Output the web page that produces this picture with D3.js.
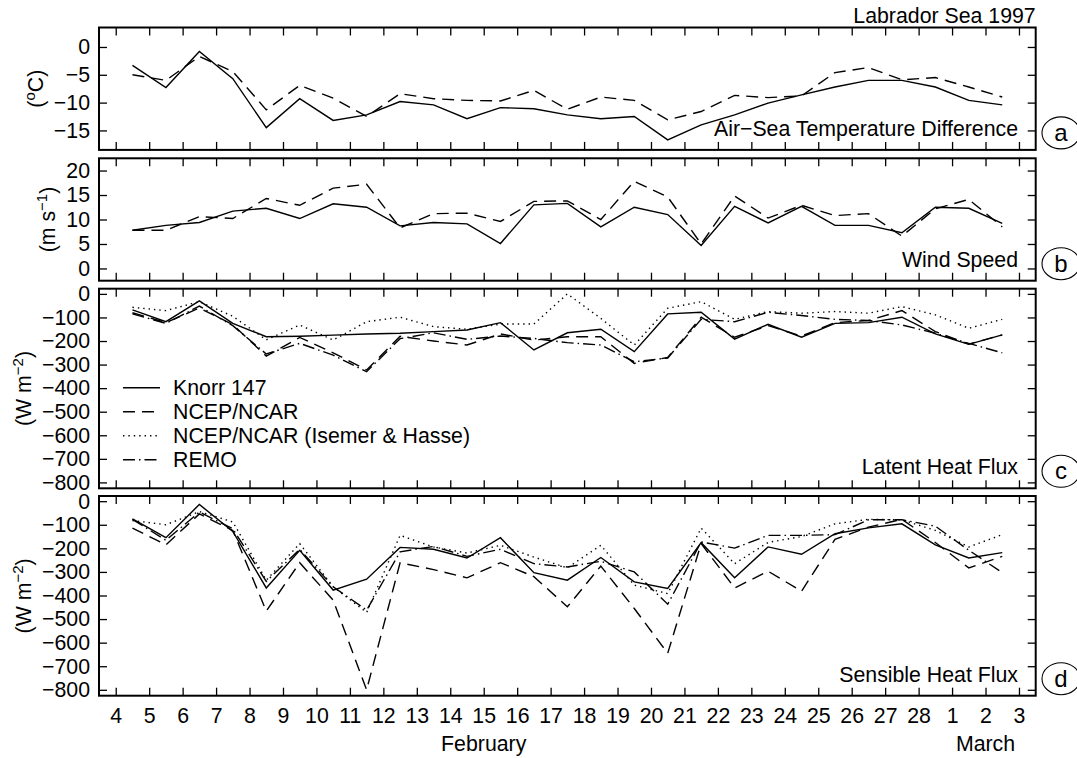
<!DOCTYPE html>
<html><head><meta charset="utf-8">
<script src="https://cdn.jsdelivr.net/npm/d3@7"></script>
<style>
html,body{margin:0;padding:0;background:#fff;}
svg{display:block;font-family:"Liberation Sans",Arial,Helvetica,sans-serif;}
</style></head><body>
<svg id="chart" width="1077" height="758"></svg>
<script>
// ---------------- DATA ----------------
const obsDays = [4.5,5.5,6.5,7.5,8.5,9.5,10.5,11.5,12.5,13.5,14.5,15.5,16.5,17.5,18.5,19.5,20.5,21.5,22.5,23.5,24.5,25.5,26.5,27.5,28.5,29.5,30.5];
const xTickDays = [4,5,6,7,8,9,10,11,12,13,14,15,16,17,18,19,20,21,22,23,24,25,26,27,28,29,30,31];
const xTickLabels = ["4","5","6","7","8","9","10","11","12","13","14","15","16","17","18","19","20","21","22","23","24","25","26","27","28","1","2","3"];
const monthLabels = ["February","March"];
const monthLabelDays = [15, 30];

// (a) Air-sea temperature difference (degC)
const knorrTemp = [-3.3,-7.3,-0.8,-5.7,-14.5,-9.3,-13.2,-12.2,-9.8,-10.4,-12.9,-10.9,-11.1,-12.2,-12.9,-12.5,-16.7,-14.0,-12.2,-10.1,-8.6,-7.2,-6.0,-6.0,-7.2,-9.6,-10.4];
const ncepTemp  = [-5.0,-6.0,-1.7,-4.4,-11.3,-6.9,-9.2,-12.5,-8.4,-9.3,-9.6,-9.7,-7.8,-11.2,-9.0,-9.6,-13.1,-11.6,-8.7,-9.1,-8.8,-4.6,-3.7,-5.9,-5.5,-7.2,-9.0];
const yTicksTemp = [0,-5,-10,-15];

// (b) Wind speed (m/s)
const knorrWind = [7.8,8.8,9.4,11.7,12.3,10.2,13.2,12.5,8.7,9.4,9.1,5.1,13.0,13.3,8.5,12.5,11.0,4.7,12.7,9.3,12.7,8.8,8.8,7.3,12.5,12.3,9.2];
const ncepWind  = [7.8,7.8,10.6,10.2,14.3,12.9,16.4,17.2,8.3,11.2,11.3,9.6,13.7,13.8,10.0,17.8,14.6,5.0,14.8,10.3,12.9,10.8,11.2,6.6,12.2,14.1,8.5];
const yTicksWind = [0,5,10,15,20];

// (c) Latent heat flux (W/m2)
const knorrLat = [-68,-118,-30,-125,-182,-180,-175,-170,-167,-160,-153,-122,-238,-165,-150,-245,-85,-78,-192,-129,-184,-125,-122,-99,-170,-214,-174];
const ncepLat  = [-80,-122,-60,-130,-264,-185,-250,-323,-180,-200,-217,-170,-196,-182,-182,-295,-270,-99,-184,-135,-179,-122,-113,-71,-160,-213,-174];
const ihLat    = [-57,-71,-33,-95,-195,-132,-196,-118,-99,-139,-150,-128,-128,0,-104,-217,-61,-33,-108,-75,-82,-75,-82,-54,-89,-146,-108];
const remoLat  = [-85,-125,-52,-135,-255,-210,-260,-330,-190,-165,-193,-179,-189,-207,-217,-288,-272,-108,-118,-78,-92,-108,-113,-132,-167,-210,-250];

// (d) Sensible heat flux (W/m2)
const knorrSens = [-75,-155,-14,-128,-368,-208,-377,-331,-196,-204,-241,-155,-303,-335,-239,-342,-370,-176,-325,-194,-225,-138,-113,-96,-185,-241,-218];
const ncepSens  = [-114,-185,-54,-124,-466,-261,-420,-800,-261,-290,-325,-261,-320,-448,-275,-455,-645,-180,-368,-297,-382,-162,-110,-77,-175,-283,-234];
const ihSens    = [-82,-100,-44,-88,-335,-180,-363,-472,-145,-194,-220,-187,-237,-283,-187,-356,-392,-114,-265,-175,-150,-96,-77,-79,-124,-194,-142];
const remoSens  = [-77,-166,-46,-117,-340,-204,-363,-462,-215,-192,-234,-204,-265,-279,-255,-300,-437,-173,-199,-145,-145,-142,-79,-79,-106,-208,-303];
const yTicksFlux = [0,-100,-200,-300,-400,-500,-600,-700,-800];

const legendLabels = ["Knorr 147","NCEP/NCAR","NCEP/NCAR (Isemer & Hasse)","REMO"];
const panelTitles = ["Air\u2212Sea Temperature Difference","Wind Speed","Latent Heat Flux","Sensible Heat Flux"];
const panelLetters = ["a","b","c","d"];
const figureTitle = "Labrador Sea 1997";

// ---------------- STYLE / LAYOUT ----------------
const FONT = 21.3;
const dashes = {solid:null, dashed:"12,7", dotted:"1.4,4", dashdot:"12,4,1.5,4"};
const legendStyles = ["solid","dashed","dotted","dashdot"];
const left = 99, right = 1035.7;
const layout = [
  {top:27.5, h:122.4, domain:[-18.5,3.5]},
  {top:158.3, h:122.4, domain:[-2.5,22.5]},
  {top:288.7, h:199.6, domain:[-825,22]},
  {top:496.0, h:199.7, domain:[-825,22]}
];

const panels = [
  {ticks:yTicksTemp, unit:[["(",0],["o",1],["C)",0]], series:[[knorrTemp,"solid"],[ncepTemp,"dashed"]]},
  {ticks:yTicksWind, unit:[["(m s",0],["\u22121",1],[")",0]], series:[[knorrWind,"solid"],[ncepWind,"dashed"]]},
  {ticks:yTicksFlux, unit:[["(W m",0],["\u22122",1],[")",0]], series:[[knorrLat,"solid"],[ncepLat,"dashed"],[ihLat,"dotted"],[remoLat,"dashdot"]]},
  {ticks:yTicksFlux, unit:[["(W m",0],["\u22122",1],[")",0]], series:[[knorrSens,"solid"],[ncepSens,"dashed"],[ihSens,"dotted"],[remoSens,"dashdot"]]}
];

const svg = d3.select("#chart");
svg.append("rect").attr("width",1077).attr("height",758).attr("fill","#fff");

const x = d3.scaleLinear().domain([3.5,31.5]).range([left,right]);

function styleAxis(g){
  g.select(".domain").remove();
  g.attr("font-size",FONT).attr("font-family",'"Liberation Sans",Arial,Helvetica,sans-serif');
  g.selectAll(".tick line").attr("stroke","#000").attr("stroke-width",1.3);
  g.selectAll(".tick text").attr("fill","#000");
}

panels.forEach((p,pi)=>{
  const L = layout[pi];
  const bottom = L.top + L.h;
  const y = d3.scaleLinear().domain(L.domain).range([bottom, L.top]);
  const g = svg.append("g");

  // axes with inward ticks on all four sides
  const gl = g.append("g").attr("transform",`translate(${left},0)`)
    .call(d3.axisLeft(y).tickValues(p.ticks).tickFormat(d3.format("d")).tickSizeInner(-8).tickSizeOuter(0).tickPadding(9));
  styleAxis(gl);
  const gr = g.append("g").attr("transform",`translate(${right},0)`)
    .call(d3.axisRight(y).tickValues(p.ticks).tickFormat("").tickSizeInner(-8).tickSizeOuter(0));
  styleAxis(gr);
  const gt = g.append("g").attr("transform",`translate(0,${L.top})`)
    .call(d3.axisTop(x).tickValues(xTickDays).tickFormat("").tickSizeInner(-8).tickSizeOuter(0));
  styleAxis(gt);
  const gb = g.append("g").attr("transform",`translate(0,${bottom})`)
    .call(d3.axisBottom(x).tickValues(xTickDays)
      .tickFormat(pi===3 ? ((d,i)=>xTickLabels[i]) : "")
      .tickSizeInner(-8).tickSizeOuter(0).tickPadding(12));
  styleAxis(gb);

  // box
  g.append("rect").attr("x",left).attr("y",L.top).attr("width",right-left).attr("height",L.h)
    .attr("fill","none").attr("stroke","#000").attr("stroke-width",2);

  // data lines
  const line = d3.line().x((d,i)=>x(obsDays[i])).y(d=>y(d));
  p.series.forEach(([vals,st])=>{
    g.append("path").datum(vals).attr("d",line).attr("fill","none")
      .attr("stroke","#000").attr("stroke-width",1.4)
      .attr("stroke-linejoin","miter")
      .attr("stroke-dasharray",dashes[st]);
  });

  // y label
  let minX = Infinity;
  gl.selectAll(".tick text").each(function(){ const b=this.getBBox(); minX=Math.min(minX, left + b.x); });
  const lx = minX - 11, ly = L.top + L.h/2;
  const t = g.append("text").attr("transform",`translate(${lx},${ly}) rotate(-90)`)
    .attr("text-anchor","middle").attr("font-size",FONT).attr("fill","#000");
  let shifted = false;
  p.unit.forEach(([s,sup])=>{
    const ts = t.append("tspan").text(s);
    if(sup){ ts.attr("font-size",15).attr("dy",-8); shifted=true; }
    else if(shifted){ ts.attr("dy",8); shifted=false; }
  });

  // panel title
  g.append("text").attr("x",1018).attr("y",bottom-14).attr("text-anchor","end")
    .attr("font-size",FONT).attr("fill","#000").text(panelTitles[pi]);

  // panel letter in ellipse
  const cy = bottom - 17;
  g.append("ellipse").attr("cx",1061).attr("cy",cy).attr("rx",19).attr("ry",16)
    .attr("fill","none").attr("stroke","#000").attr("stroke-width",1.1);
  g.append("text").attr("x",1061).attr("y",cy+8).attr("text-anchor","middle")
    .attr("font-size",24).attr("fill","#000").text(panelLetters[pi]);

  // legend in panel c
  if(pi===2){
    legendLabels.forEach((lab,i)=>{
      const yy = L.top + 99 + i*24;
      g.append("line").attr("x1",left+24).attr("x2",left+61).attr("y1",yy).attr("y2",yy)
        .attr("stroke","#000").attr("stroke-width",1.4).attr("stroke-dasharray",dashes[legendStyles[i]]);
      g.append("text").attr("x",left+74).attr("y",yy+7.5).attr("font-size",FONT).attr("fill","#000").text(lab);
    });
  }

  // month labels under bottom panel
  if(pi===3){
    monthLabels.forEach((m,i)=>{
      g.append("text").attr("x",x(monthLabelDays[i])).attr("y",bottom+55).attr("text-anchor","middle")
        .attr("font-size",FONT).attr("fill","#000").text(m);
    });
  }
});

// figure title
svg.append("text").attr("x",right).attr("y",23).attr("text-anchor","end")
  .attr("font-size",FONT).attr("fill","#000").text(figureTitle);
</script>
</body></html>
